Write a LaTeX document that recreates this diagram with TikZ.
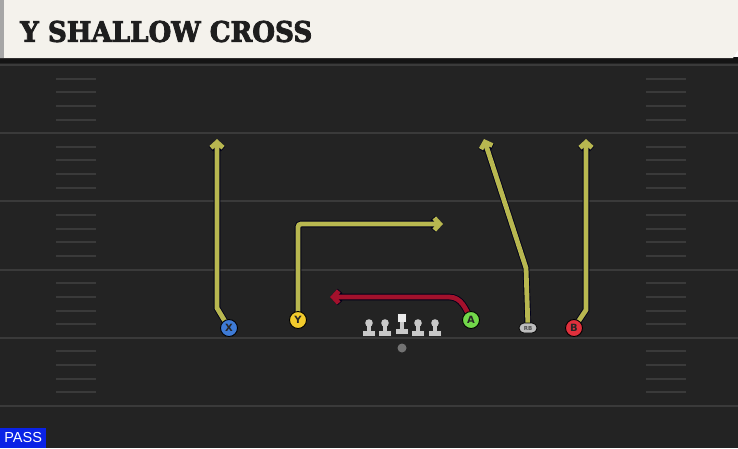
\documentclass[tikz,border=0pt]{standalone}
\usepackage{fontspec}
\setmainfont{DejaVu Sans}
\newfontfamily\titlefont[BoldFeatures={FakeBold=3}]{DejaVu Serif}
\newfontfamily\passfont{Liberation Sans}
\usetikzlibrary{arrows.meta,shapes.misc}
\definecolor{fieldbg}{HTML}{232323}
\definecolor{yardline}{HTML}{3A3A3A}
\definecolor{titlebg}{HTML}{F4F2EC}
\definecolor{titletxt}{HTML}{1E1E1E}
\definecolor{routey}{HTML}{B8B750}
\definecolor{router}{HTML}{A3112C}
\definecolor{xblue}{HTML}{3E7BD6}
\definecolor{yyellow}{HTML}{F2CB2C}
\definecolor{agreen}{HTML}{72D84A}
\definecolor{bred}{HTML}{E0303C}
\definecolor{rbgray}{HTML}{BDBDBD}
\definecolor{linegray}{HTML}{C9C9C9}
\definecolor{passblue}{HTML}{0A22E6}
\pgfdeclarelayer{fieldlayer}
\pgfdeclarelayer{routelayer}
\pgfsetlayers{fieldlayer,routelayer,main}
\tikzset{
  yline/.style={draw=yardline, line width=2pt},
  hashmark/.style={draw=yardline, line width=2pt},
  routeout/.style={draw=black!90!blue, line width=6.6pt, line join=miter, -{Straight Barb[length=5.5pt,width=12pt]}},
  routein/.style={line width=4.8pt, line join=miter, -{Straight Barb[length=5.5pt,width=12pt]}},
  player/.style={circle, draw=black, line width=0.9pt, minimum size=17pt, inner sep=0pt,
     font=\bfseries\fontsize{10}{10}\selectfont, text=black!85},
  rbbox/.style={rounded rectangle, draw=black, line width=0.7pt, fill=rbgray, minimum width=18pt,
     minimum height=10pt, inner sep=0pt, font=\bfseries\fontsize{5.5}{5.5}\selectfont, text=black!70},
  ball/.style={circle, fill=black!55, minimum size=9pt, inner sep=0pt},
  passbox/.style={fill=passblue, text=white, inner sep=0pt, minimum width=46pt, minimum height=20pt,
     font=\passfont\fontsize{14.5}{14.5}\selectfont},
}
\newcommand\playroute[2]{%
  \draw[routeout] #2;
  \draw[routein, draw=#1] #2;}
\begin{document}
\begin{tikzpicture}[x=1pt,y=-1pt]
\useasboundingbox (0,0) rectangle (738,448);
\begin{pgfonlayer}{fieldlayer}
  % field
  \fill[fieldbg] (0,58) rectangle (738,448);
  \foreach \k in {0,...,5} {
    \pgfmathsetmacro\yy{65+68.2*\k}
    \draw[yline] (0,\yy) -- (738,\yy);
  }
  \foreach \k in {0,...,4} {
    \foreach \j in {1,...,4} {
      \pgfmathsetmacro\yy{65+68.2*\k+13.64*\j}
      \draw[hashmark] (56,\yy) -- (96,\yy);
      \draw[hashmark] (646,\yy) -- (686,\yy);
    }
  }
  % title band
  \fill[black!92] (0,57) rectangle (738,63);
  \fill[titlebg] (0,0) -- (738,0) -- (738,50) -- (733,58) -- (0,58) -- cycle;
  \fill[black!35] (0,0) rectangle (4,58);
\end{pgfonlayer}
\node[anchor=west, inner sep=0pt, text=titletxt] (title) at (20,31.5)
  {\resizebox{292pt}{21pt}{\titlefont\bfseries Y SHALLOW CROSS}};

% players
\node[player, fill=xblue] (X) at (229,328) {X};
\node[player, fill=yyellow] (Y) at (298,320) {Y};
\node[player, fill=agreen] (A) at (471,320) {A};
\node[rbbox] (RB) at (528,328) {RB};
\node[player, fill=bred] (B) at (574,328) {B};
\node[ball] (ball) at (402,348) {};

% linemen
\foreach \xx in {369,385,418,435} {
  \fill[black!85] (\xx,323) circle (4.6pt);
  \fill[black!85] (\xx-2.8,323) rectangle (\xx+2.8,333);
  \fill[black!85] (\xx-6.5,330) rectangle (\xx+6.5,336.5);
}
\fill[black!85] (397,313) rectangle (407,323);
\fill[black!85] (399.2,322) rectangle (404.8,331);
\fill[black!85] (395.5,328.5) rectangle (408.5,334.5);
\foreach \xx in {369,385,418,435} {
  \fill[linegray] (\xx,323) circle (3.8pt);
  \fill[linegray] (\xx-2,323) rectangle (\xx+2,332);
  \fill[linegray] (\xx-5.7,331) rectangle (\xx+5.7,335.7);
}
\fill[white!92!black] (398,314) rectangle (406,322);
\fill[linegray] (400,322) rectangle (404,330);
\fill[linegray] (396.3,329.3) rectangle (407.7,333.7);

% route points
\coordinate (x1) at (217,308);
\coordinate (xt) at (217,139);
\coordinate (y1) at (298,224);
\coordinate (yt) at (443,224);
\coordinate (a1) at (449,297);
\coordinate (at) at (330,297);
\coordinate (r1) at (526,268);
\coordinate (rt) at (484,139);
\coordinate (b1) at (586,310);
\coordinate (bt) at (586,139);

\begin{pgfonlayer}{routelayer}
  \playroute{routey}{(X.center) -- (x1) -- (xt)}
  \playroute{routey}{[rounded corners=3pt] (Y.center) -- (y1) -- (yt)}
  \playroute{router}{(A.center) to[out=115,in=0] (a1) -- (at)}
  \playroute{routey}{(RB.center) -- (r1) -- (rt)}
  \playroute{routey}{(B.center) -- (b1) -- (bt)}
\end{pgfonlayer}

\node[passbox, anchor=south west] (pass) at (0,448) {PASS};
\end{tikzpicture}
\end{document}
